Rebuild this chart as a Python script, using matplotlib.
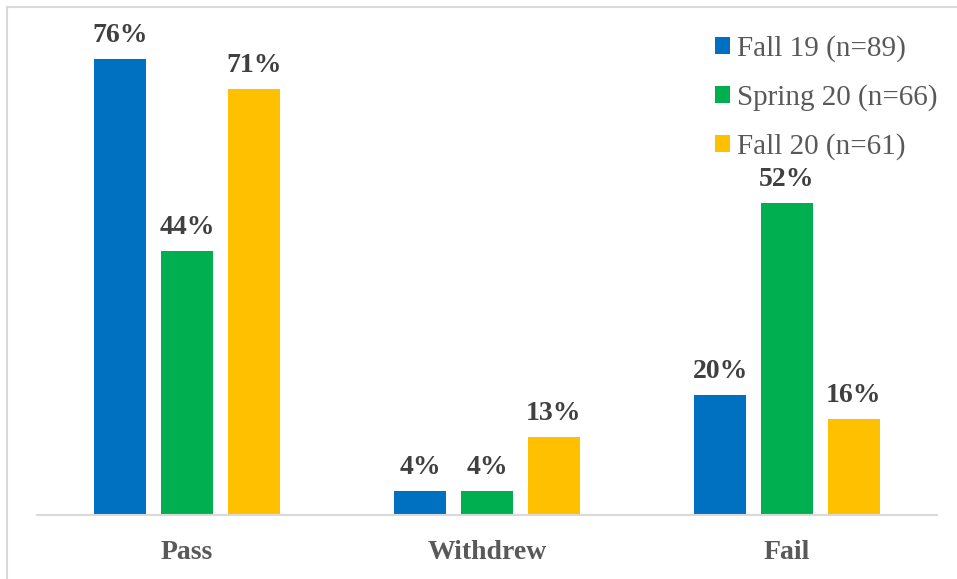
import matplotlib.pyplot as plt
from matplotlib.lines import Line2D
import numpy as np

categories = ["Pass", "Withdrew", "Fail"]
series = ["Fall 19 (n=89)", "Spring 20 (n=66)", "Fall 20 (n=61)"]
fall19 = [76, 4, 20]
spring20 = [44, 4, 52]
fall20 = [71, 13, 16]
colors = ["#0070C0", "#00B050", "#FFC000"]

plt.rcParams['font.family'] = ['Liberation Serif', 'DejaVu Serif']

fig = plt.figure(figsize=(9.57, 5.79), dpi=100)
ax = fig.add_axes([37 / 957, 64 / 579, 900 / 957, 480 / 579])

x = np.arange(len(categories))
width = 0.173
offsets = [-0.223, 0, 0.223]
for vals, off, c, name in zip([fall19, spring20, fall20], offsets, colors, series):
    bars = ax.bar(x + off, vals, width, color=c, label=name)
    for b, v in zip(bars, vals):
        ax.annotate(f"{v}%", (b.get_x() + b.get_width() / 2, b.get_height()),
                    xytext=(0, 8), textcoords="offset points", ha="center", va="bottom",
                    fontsize=20, fontweight="bold", color="#404040")

ax.set_xlim(-0.5, 2.5)
ax.set_ylim(0, 80)
ax.set_xticks(x)
ax.set_xticklabels(categories, fontsize=20, fontweight="bold", color="#595959")
ax.tick_params(axis="x", length=0, pad=18)
ax.set_yticks([])
for s in ["top", "right", "left"]:
    ax.spines[s].set_visible(False)
ax.spines["bottom"].set_color("#D9D9D9")
ax.spines["bottom"].set_linewidth(1.5)

leg = ax.legend(loc="upper left", bbox_to_anchor=(715 / 957, 1 - 35 / 579),
                bbox_transform=fig.transFigure, frameon=False, fontsize=21,
                handlelength=0.52, handleheight=0.52, handletextpad=0.25,
                labelspacing=0.76, borderpad=0, borderaxespad=0)
for t in leg.get_texts():
    t.set_color("#595959")

# chart area border (top and left visible)
fig.add_artist(Line2D([7 / 957, 7 / 957], [0, 1 - 7 / 579], transform=fig.transFigure,
                      color="#D9D9D9", lw=1.5))
fig.add_artist(Line2D([7 / 957, 1], [1 - 7 / 579, 1 - 7 / 579], transform=fig.transFigure,
                      color="#D9D9D9", lw=1.5))

fig.savefig("out.png", dpi=100)
